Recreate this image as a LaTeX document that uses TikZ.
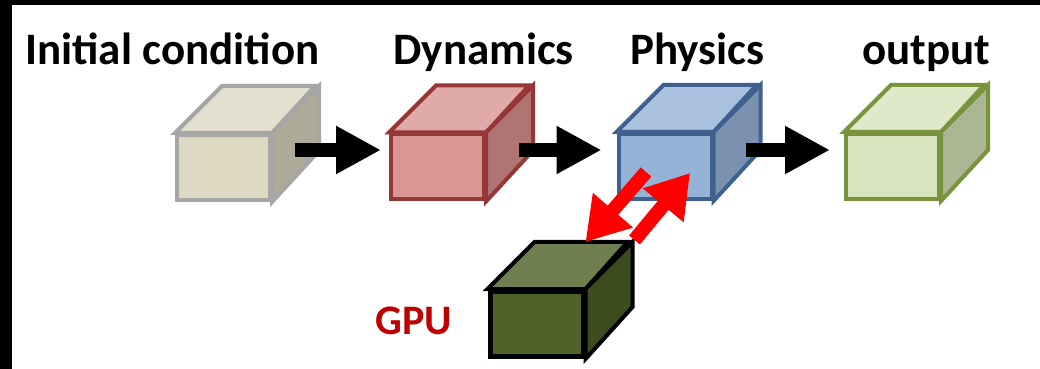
\documentclass[tikz,border=0pt]{standalone}
\usepackage{fontspec}
\setmainfont{Carlito}
\usetikzlibrary{arrows.meta,calc}
\definecolor{initF}{HTML}{DDD9C3}\definecolor{initT}{HTML}{E3E0CF}\definecolor{initS}{HTML}{ADAA98}\definecolor{initE}{HTML}{A6A6A6}
\definecolor{dynF}{HTML}{D99694}\definecolor{dynT}{HTML}{E0AAA8}\definecolor{dynS}{HTML}{B07472}\definecolor{dynE}{HTML}{953735}
\definecolor{phyF}{HTML}{95B3D7}\definecolor{phyT}{HTML}{A9C0DE}\definecolor{phyS}{HTML}{7A91B0}\definecolor{phyE}{HTML}{3E6190}
\definecolor{outF}{HTML}{D7E4BD}\definecolor{outT}{HTML}{DFE9CA}\definecolor{outS}{HTML}{ABB695}\definecolor{outE}{HTML}{77933C}
\definecolor{gpuF}{HTML}{4F6228}\definecolor{gpuT}{HTML}{6F7F4D}\definecolor{gpuS}{HTML}{3D4C1F}\definecolor{gpuE}{HTML}{000000}
\definecolor{gpuText}{HTML}{C00000}
\newcommand\drawcubefaces[4]{%
  \filldraw[draw=#4, fill=#2, line width=2pt] (#1.north west) -- ++(47,-47) -- ++(93,0) -- (#1.north east) -- cycle;
  \filldraw[draw=#4, fill=#3, line width=2pt] (#1.north east) -- ++(47,-47) -- ++(0,65) -- (#1.south east) -- cycle;
}
\begin{document}
\begin{tikzpicture}[x=0.5pt,y=-0.5pt,
  cubefront/.style={draw, line width=2pt, minimum width=46.5pt, minimum height=32.5pt, inner sep=0pt},
  lbl/.style={font=\bfseries\fontsize{22.5pt}{26pt}\selectfont, inner sep=0pt, anchor=base west, text=black},
  gpulbl/.style={font=\bfseries\fontsize{21pt}{25pt}\selectfont, inner sep=0pt, anchor=base west, text=gpuText},
  flowarrow/.style={line width=7pt, draw=black, -{Triangle[width=22.5pt,length=22.5pt]}},
  gpuarrow/.style={line width=7pt, draw=red, -{Triangle[width=25pt,length=21pt]}}]
\useasboundingbox (0,0) rectangle (1040,369);
\fill[white] (0,0) rectangle (1040,369);
\fill[black] (0,0) rectangle (1040,5);
\fill[black] (0,0) rectangle (12,369);

\node[lbl] (tinit) at (25,65) {Initial condition};
\node[lbl] (tdyn) at (393,65) {Dynamics};
\node[lbl] (tphy) at (630,65) {Physics};
\node[lbl] (tout) at (862,65) {output};
\node[gpulbl] (tgpu) at (375,335) {GPU};

\node[cubefront, draw=initE, fill=initF] (init) at (223.5,167.5) {};
\drawcubefaces{init}{initT}{initS}{initE}
\node[cubefront, draw=dynE, fill=dynF] (dyn) at (437.5,167) {};
\drawcubefaces{dyn}{dynT}{dynS}{dynE}
\node[cubefront, draw=phyE, fill=phyF] (phys) at (665,166.5) {};
\drawcubefaces{phys}{phyT}{phyS}{phyE}
\node[cubefront, draw=outE, fill=outF] (out) at (892.5,166.5) {};
\drawcubefaces{out}{outT}{outS}{outE}
\node[cubefront, draw=gpuE, fill=gpuF, line width=2.5pt] (gpu) at (536.5,324) {};
\drawcubefaces{gpu}{gpuT}{gpuS}{gpuE}

\draw[flowarrow] ($(init.east)+(23,-17.5)$) -- ($(dyn.west)+(-8,-17)$);
\draw[flowarrow] ($(dyn.east)+(33,-17)$) -- ($(phys.west)+(-15,-16.5)$);
\draw[flowarrow] ($(phys.east)+(32,-16.5)$) -- ($(out.west)+(-14,-16.5)$);

\draw[gpuarrow] ($(phys.center)+(-19,5.5)$) -- ($(gpu.north east)+(0,-47)$);
\draw[gpuarrow] ($(gpu.north east)+(49,-49)$) -- ($(phys.center)+(25,6.5)$);
\end{tikzpicture}
\end{document}
